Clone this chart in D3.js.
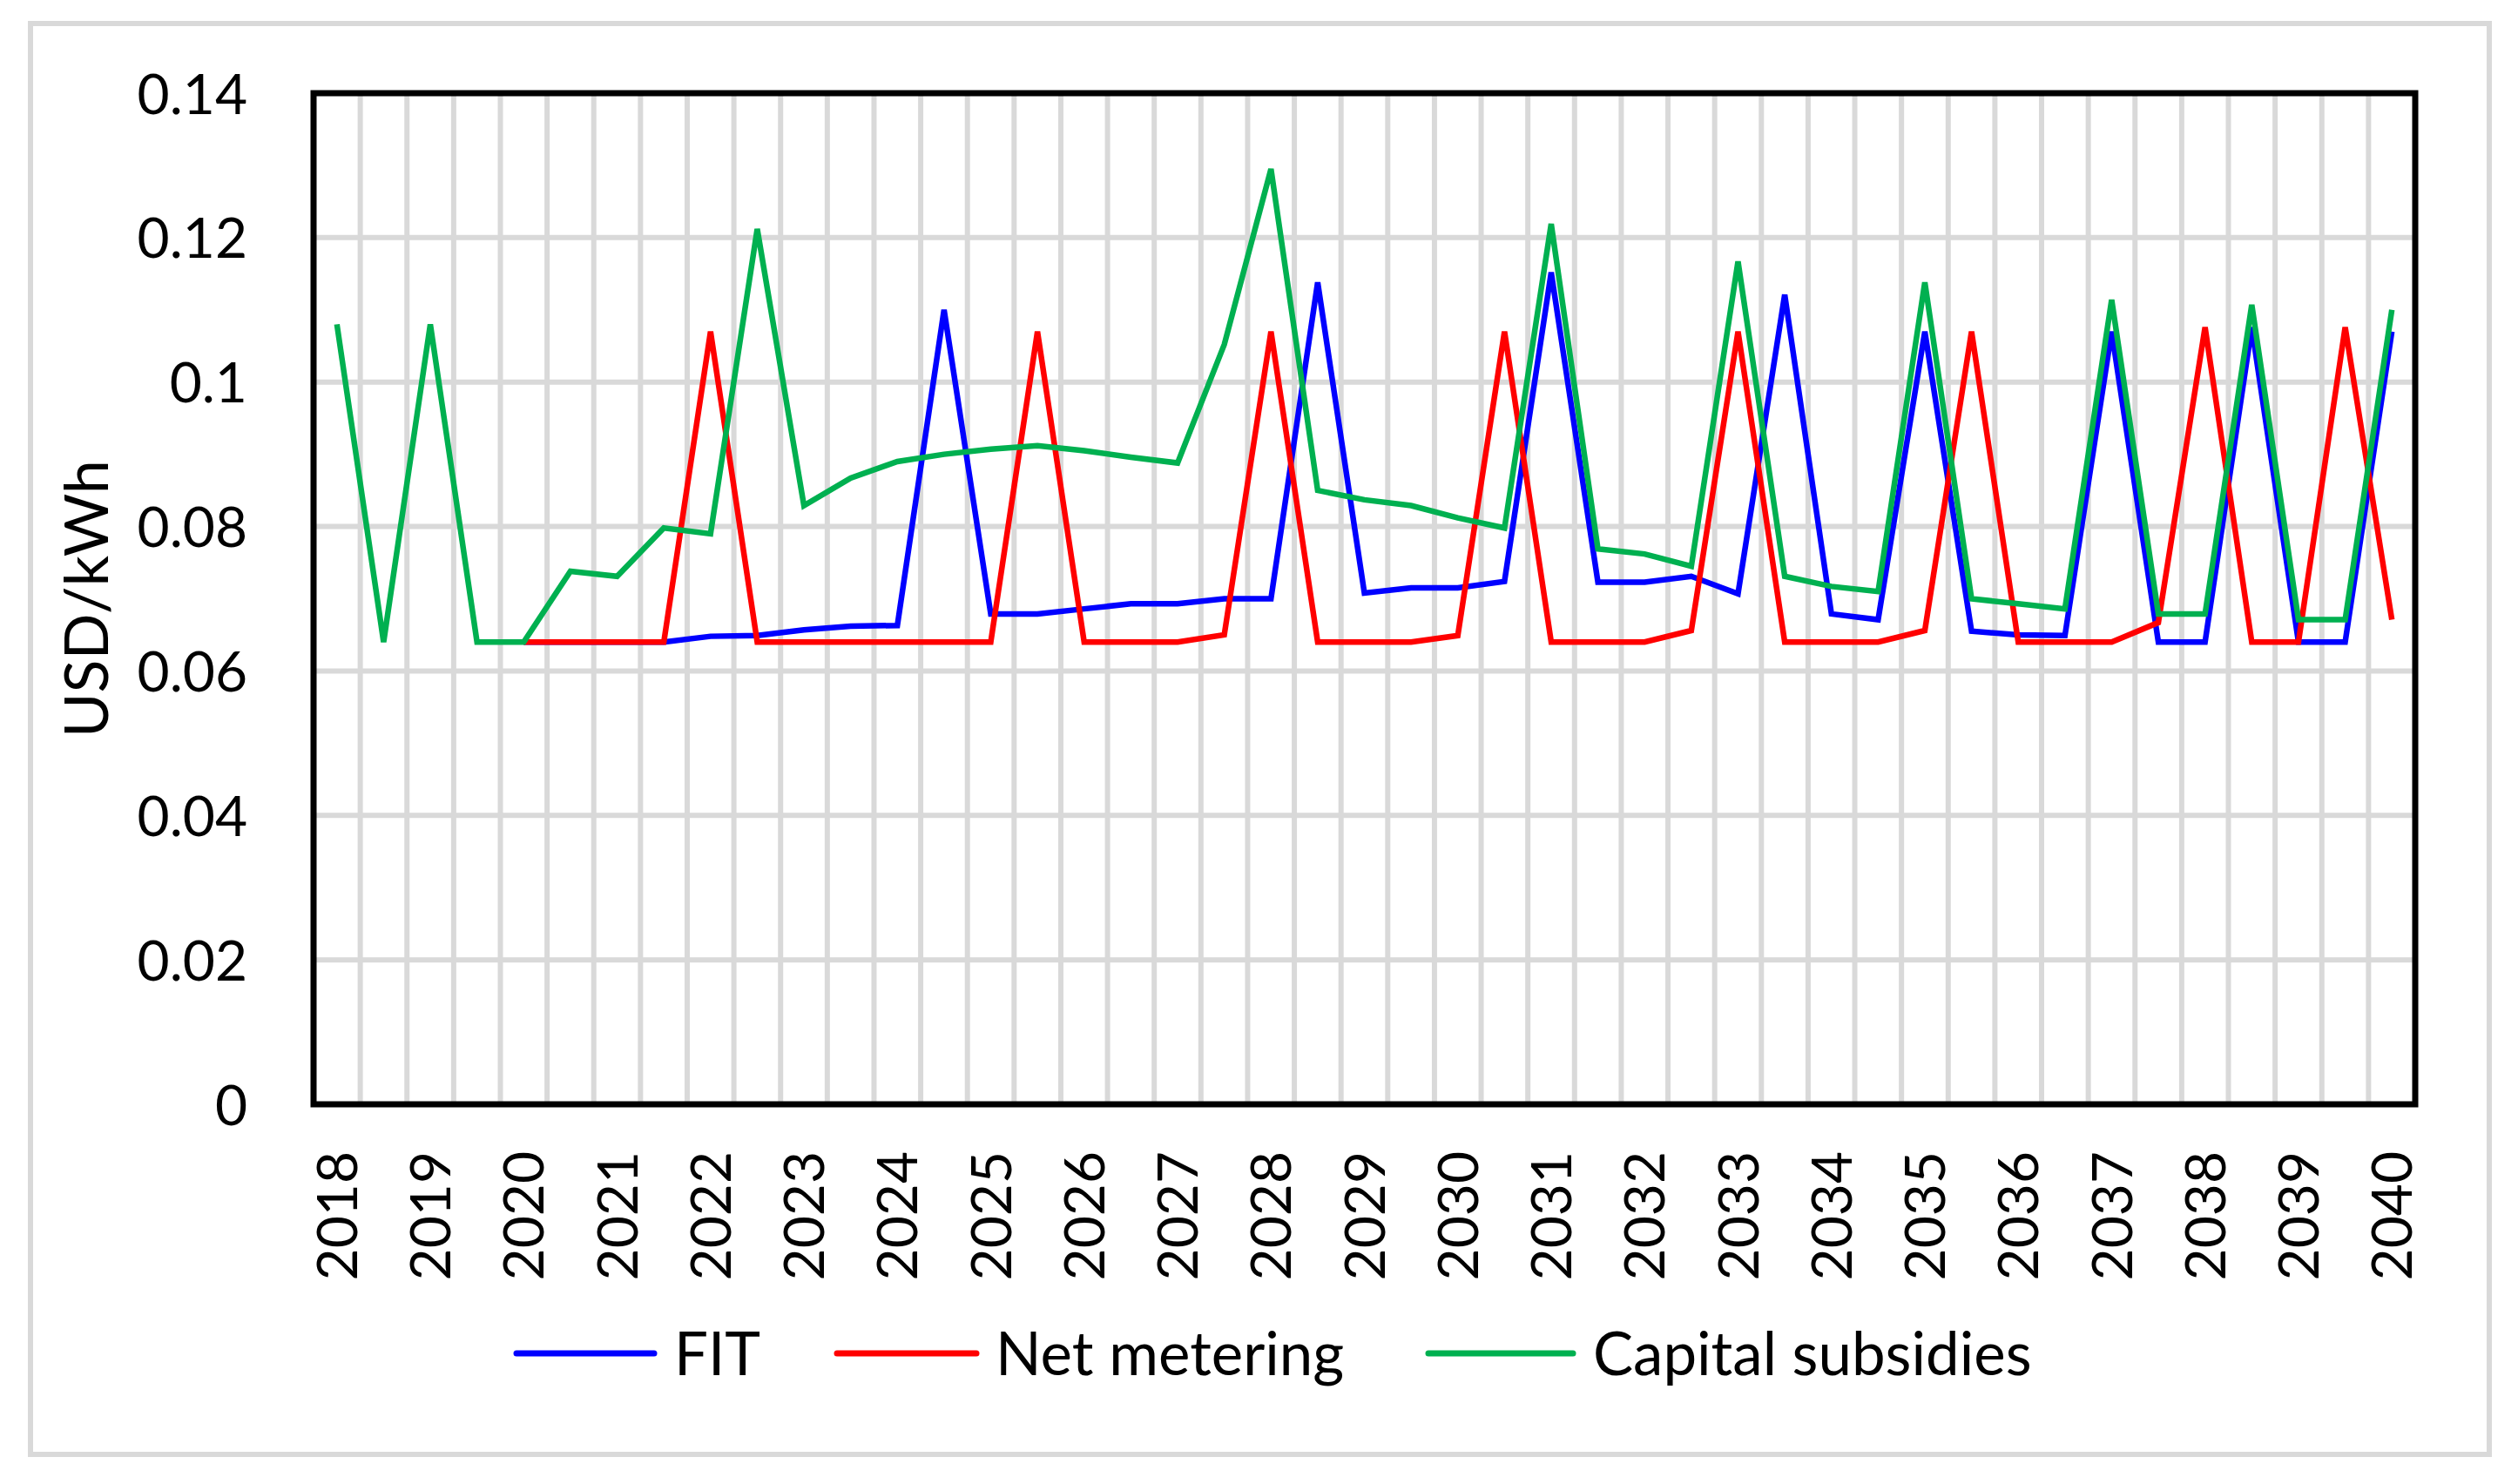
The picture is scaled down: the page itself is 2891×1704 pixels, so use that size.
<!DOCTYPE html>
<html>
<head>
<meta charset="utf-8">
<script src="https://cdn.jsdelivr.net/npm/d3@7"></script>
<style>
  html, body { margin: 0; padding: 0; background: #ffffff; }
  svg { display: block; }
  text { font-family: Lato, "Liberation Sans", sans-serif; fill: #000; }
</style>
</head>
<body>
<svg id="chart" width="2891" height="1704"></svg>
<script>
// ---- data ----
const categories = [
  "2018","2018.5","2019","2019.5","2020","2020.5","2021","2021.5","2022","2022.5",
  "2023","2023.5","2024","2024.5","2025","2025.5","2026","2026.5","2027","2027.5",
  "2028","2028.5","2029","2029.5","2030","2030.5","2031","2031.5","2032","2032.5",
  "2033","2033.5","2034","2034.5","2035","2035.5","2036","2036.5","2037","2037.5",
  "2038","2038.5","2039","2039.5","2040"
];
const yearLabels = ["2018","2019","2020","2021","2022","2023","2024","2025","2026","2027",
  "2028","2029","2030","2031","2032","2033","2034","2035","2036","2037","2038","2039","2040"];
const yTicks = [0, 0.02, 0.04, 0.06, 0.08, 0.1, 0.12, 0.14];

const fitValues = [null, null, null, null, 0.064, 0.064, 0.064, 0.064, 0.0648, 0.0649,
  0.0657, 0.0662, 0.0663, 0.110, 0.0679, 0.0679, 0.0686, 0.0693, 0.0693, 0.0700,
  0.0700, 0.1138, 0.0708, 0.0715, 0.0715, 0.0724, 0.1152, 0.0723, 0.0723, 0.0731,
  0.0707, 0.1121, 0.0679, 0.0671, 0.107, 0.0655, 0.0650, 0.0649, 0.107, 0.064,
  0.064, 0.1076, 0.064, 0.064, 0.107];
const netMeteringValues = [null, null, null, null, 0.064, 0.064, 0.064, 0.064, 0.107, 0.064,
  0.064, 0.064, 0.064, 0.064, 0.064, 0.107, 0.064, 0.064, 0.064, 0.065,
  0.107, 0.064, 0.064, 0.064, 0.0649, 0.107, 0.064, 0.064, 0.064, 0.0656,
  0.107, 0.064, 0.064, 0.064, 0.0656, 0.107, 0.064, 0.064, 0.064, 0.0667,
  0.1076, 0.064, 0.064, 0.1076, 0.0671];
const capitalSubsidiesValues = [0.108, 0.064, 0.108, 0.064, 0.064, 0.0738, 0.0731, 0.0798, 0.0790, 0.1212,
  0.0829, 0.0867, 0.0890, 0.0900, 0.0907, 0.0912, 0.0905, 0.0896, 0.0888, 0.1052,
  0.1295, 0.0850, 0.0837, 0.0829, 0.0812, 0.0798, 0.1219, 0.0769, 0.0762, 0.0745,
  0.1167, 0.0731, 0.0717, 0.0710, 0.1138, 0.0700, 0.0693, 0.0686, 0.1114, 0.0679,
  0.0679, 0.1107, 0.0671, 0.0671, 0.1100];

const seriesNames = ["FIT", "Net metering", "Capital subsidies"];
const seriesColors = ["#0000ff", "#ff0000", "#00b050"];
const seriesValues = [fitValues, netMeteringValues, capitalSubsidiesValues];

// ---- layout ----
const W = 2891, H = 1704;
const plot = { left: 360, right: 2773, top: 107, bottom: 1268 };

const svg = d3.select("#chart");
svg.append("rect").attr("x", 0).attr("y", 0).attr("width", W).attr("height", H).attr("fill", "#fff");

// chart area border
svg.append("rect")
  .attr("x", 35).attr("y", 27).attr("width", 2823).attr("height", 1643)
  .attr("fill", "none").attr("stroke", "#d9d9d9").attr("stroke-width", 6);

const x = d3.scaleBand().domain(categories).range([plot.left, plot.right]).paddingInner(0).paddingOuter(0);
const y = d3.scaleLinear().domain([0, 0.14]).range([plot.bottom, plot.top]);
const cx = c => x(c) + x.bandwidth() / 2;

const grid = svg.append("g").attr("stroke", "#d9d9d9").attr("stroke-width", 6);
// vertical gridlines between categories
grid.selectAll("line.v").data(categories.slice(1)).join("line")
  .attr("class", "v")
  .attr("x1", d => x(d)).attr("x2", d => x(d))
  .attr("y1", plot.top).attr("y2", plot.bottom);
// horizontal gridlines
grid.selectAll("line.h").data(yTicks.slice(1, -1)).join("line")
  .attr("class", "h")
  .attr("x1", plot.left).attr("x2", plot.right)
  .attr("y1", d => y(d)).attr("y2", d => y(d));

// series lines
const line = d3.line()
  .defined(d => d.v !== null)
  .x(d => cx(d.c))
  .y(d => y(d.v));

seriesValues.forEach((vals, k) => {
  const pts = categories.map((c, i) => ({ c, v: vals[i] }));
  svg.append("path")
    .datum(pts)
    .attr("fill", "none")
    .attr("stroke", seriesColors[k])
    .attr("stroke-width", 6.5)
    .attr("stroke-linejoin", "miter")
    .attr("d", line);
});

// plot border
svg.append("rect")
  .attr("x", plot.left).attr("y", plot.top)
  .attr("width", plot.right - plot.left).attr("height", plot.bottom - plot.top)
  .attr("fill", "none").attr("stroke", "#000").attr("stroke-width", 7);

// y axis
const yAxis = d3.axisLeft(y).tickValues(yTicks).tickSize(0).tickPadding(76).tickFormat(d => String(d));
const gy = svg.append("g").attr("transform", `translate(${plot.left},0)`).call(yAxis);
gy.select(".domain").remove();
gy.selectAll("text")
  .attr("font-size", 64)
  .attr("font-family", "Lato, 'Liberation Sans', sans-serif")
  .attr("fill", "#000")
  .attr("dy", "0.36em");

// x axis
const yearSet = new Set(yearLabels);
const xAxis = d3.axisBottom(x).tickValues(categories.filter(c => yearSet.has(c))).tickSize(0).tickFormat(d => d);
const gx = svg.append("g").attr("transform", `translate(0,${plot.bottom})`).call(xAxis);
gx.select(".domain").remove();
gx.selectAll("text")
  .attr("font-size", 64)
  .attr("font-family", "Lato, 'Liberation Sans', sans-serif")
  .attr("fill", "#000")
  .attr("transform", "rotate(-90)")
  .attr("text-anchor", "end")
  .attr("x", -54)
  .attr("y", 0)
  .attr("dy", "0.36em");

// y axis title
svg.append("text")
  .attr("transform", `translate(99,${(plot.top + plot.bottom) / 2}) rotate(-90)`)
  .attr("text-anchor", "middle")
  .attr("dy", "0.36em")
  .attr("font-size", 70)
  .text("USD/kWh");

// legend
const legendItems = [
  { x1: 593, x2: 751, tx: 774 },
  { x1: 961, x2: 1121, tx: 1143 },
  { x1: 1640, x2: 1806, tx: 1829 }
];
const legendY = 1554;
const lg = svg.append("g");
seriesNames.forEach((name, k) => {
  const it = legendItems[k];
  lg.append("line")
    .attr("x1", it.x1).attr("x2", it.x2).attr("y1", legendY).attr("y2", legendY)
    .attr("stroke", seriesColors[k]).attr("stroke-width", 7).attr("stroke-linecap", "round");
  lg.append("text")
    .attr("x", it.tx).attr("y", legendY)
    .attr("dy", "0.36em")
    .attr("font-size", 69)
    .text(name);
});
</script>
</body>
</html>
